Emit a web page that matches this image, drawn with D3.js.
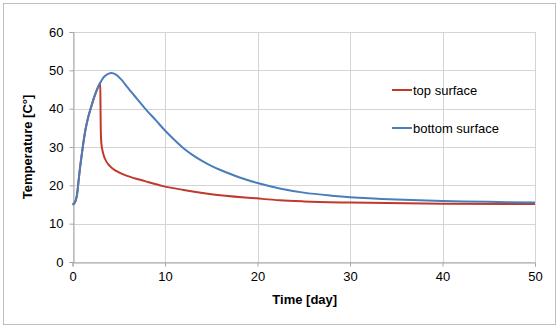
<!DOCTYPE html>
<html>
<head>
<meta charset="utf-8">
<script src="https://cdn.jsdelivr.net/npm/d3@7"></script>
<style>
  html, body { margin: 0; padding: 0; background: #fff; }
  svg { display: block; font-family: "Liberation Sans", Arial, sans-serif; }
</style>
</head>
<body>
<svg id="chart" width="559" height="328"></svg>
<script>
// Time axis (days) and temperatures (°C) for each surface
const bottomTime = [0, 0.2, 0.45, 0.65, 0.81, 1.0, 1.17, 1.4, 1.71, 2.0, 2.43, 2.97, 3.5, 4.16, 4.7, 5.31, 6, 7, 7.83, 9, 10, 11, 12, 13, 14, 15, 16, 18, 20, 22.4, 25, 28, 30, 35, 40, 45, 50];
const bottomTemp = [15, 15.3, 17, 21, 24.5, 28, 31, 34.5, 37.9, 40.3, 43.6, 46.6, 48.5, 49.3, 48.9, 47.5, 45.4, 42.5, 40.1, 37.0, 34.3, 31.9, 29.7, 27.9, 26.4, 25.1, 24.0, 22.1, 20.6, 19.2, 18.1, 17.3, 16.9, 16.3, 15.9, 15.7, 15.5];

const topTime = [0, 0.2, 0.45, 0.65, 0.81, 1.0, 1.17, 1.4, 1.71, 2.0, 2.43, 2.97, 3.0, 3.03, 3.06, 3.12, 3.25, 3.5, 4.05, 4.77, 6, 7.83, 9.8, 12, 15, 19.9, 22.4, 25, 30, 40, 50];
const topTemp = [15, 15.3, 17, 21, 24.5, 28, 31, 34.5, 37.9, 40.3, 43.6, 46.6, 46.7, 40, 34, 31, 29, 27, 25, 23.7, 22.4, 21.1, 19.8, 18.8, 17.7, 16.6, 16.1, 15.8, 15.5, 15.2, 15.1];

const xTicks = [0, 10, 20, 30, 40, 50];
const yTicks = [0, 10, 20, 30, 40, 50, 60];
const seriesNames = ["top surface", "bottom surface"];
const seriesColors = ["#c0392b", "#4a7ebb"];

const svg = d3.select("#chart");
const W = 559, H = 328;
const m = { left: 72.5, right: 24, top: 32, bottom: 66 };

// Outer chart frame
svg.append("rect")
  .attr("x", 3.5).attr("y", 3.5)
  .attr("width", W - 7).attr("height", H - 7)
  .attr("fill", "#fff").attr("stroke", "#bdbdbd").attr("stroke-width", 1);

const x = d3.scaleLinear().domain([0, 50]).range([m.left, W - m.right]);
const y = d3.scaleLinear().domain([0, 60]).range([H - m.bottom, m.top]);

// Gridlines
const grid = svg.append("g").attr("stroke", "#d4d4d4").attr("stroke-width", 1);
yTicks.forEach(t => {
  grid.append("line")
    .attr("x1", x(0)).attr("x2", x(50))
    .attr("y1", Math.round(y(t)) + 0.5).attr("y2", Math.round(y(t)) + 0.5);
});
xTicks.forEach(t => {
  grid.append("line")
    .attr("y1", y(0)).attr("y2", y(60))
    .attr("x1", Math.round(x(t)) + 0.5).attr("x2", Math.round(x(t)) + 0.5);
});

// Axes
const yAxis = svg.append("g")
  .attr("transform", `translate(${Math.round(x(0)) + 0.5},0)`)
  .call(d3.axisLeft(y).tickValues(yTicks).tickSize(4).tickPadding(6));
const xAxis = svg.append("g")
  .attr("transform", `translate(0,${Math.round(y(0)) + 0.5})`)
  .call(d3.axisBottom(x).tickValues(xTicks).tickSize(4).tickPadding(5));
[xAxis, yAxis].forEach(a => {
  a.select(".domain").attr("stroke", "#a6a6a6");
  a.selectAll(".tick line").attr("stroke", "#a6a6a6");
  a.selectAll(".tick text")
    .attr("fill", "#000")
    .style("font-size", "13px")
    .style("font-family", "'Liberation Sans', Arial, sans-serif");
});

// Axis titles
svg.append("text")
  .attr("x", (x(0) + x(50)) / 2 + 1).attr("y", 304)
  .attr("text-anchor", "middle")
  .style("font-size", "13px").style("font-weight", "bold")
  .text("Time [day]");
svg.append("text")
  .attr("transform", `translate(32,${(y(0) + y(60)) / 2}) rotate(-90)`)
  .attr("text-anchor", "middle")
  .style("font-size", "13px").style("font-weight", "bold")
  .text("Temperature [C°]");

// Lines: the top surface has a near-vertical drop, so it keeps a monotone curve
const topLine = d3.line()
  .x(d => x(d[0])).y(d => y(d[1]))
  .curve(d3.curveMonotoneX);
const bottomLine = d3.line()
  .x(d => x(d[0])).y(d => y(d[1]))
  .curve(d3.curveCatmullRom.alpha(0.5));
const topData = topTime.map((t, i) => [t, topTemp[i]]);
const bottomData = bottomTime.map((t, i) => [t, bottomTemp[i]]);

svg.append("path").datum(topData)
  .attr("d", topLine).attr("fill", "none")
  .attr("stroke", seriesColors[0]).attr("stroke-width", 2);
svg.append("path").datum(bottomData)
  .attr("d", bottomLine).attr("fill", "none")
  .attr("stroke", seriesColors[1]).attr("stroke-width", 2);

// Legend
const legend = svg.append("g");
seriesNames.forEach((name, i) => {
  const ly = 90 + i * 38;
  legend.append("line")
    .attr("x1", 392).attr("x2", 412)
    .attr("y1", ly).attr("y2", ly)
    .attr("stroke", seriesColors[i]).attr("stroke-width", 2);
  legend.append("text")
    .attr("x", 413).attr("y", ly + 4.5)
    .style("font-size", "13px")
    .text(name);
});
</script>
</body>
</html>
